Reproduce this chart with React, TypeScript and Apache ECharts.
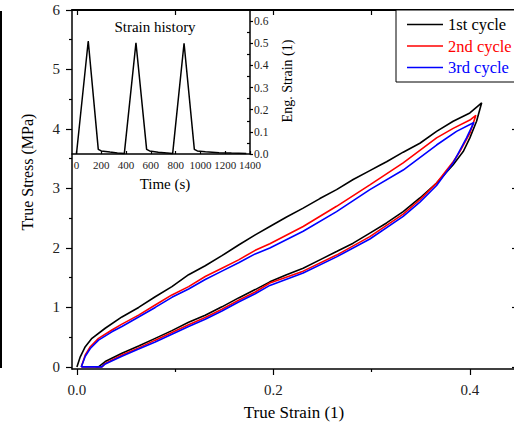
import React, { useEffect, useRef } from 'react';
import * as echarts from 'echarts';

// ---- data ----
const cycle1Strain = [0, 0.0034, 0.0085, 0.0153, 0.0288, 0.0458, 0.0628, 0.0797, 0.0967, 0.1137, 0.1306, 0.1476, 0.1646, 0.1815, 0.1964, 0.2134, 0.2303, 0.2473, 0.2643, 0.2812, 0.2982, 0.3084, 0.3152, 0.3321, 0.3491, 0.3661, 0.383, 0.40, 0.412,
  0.4068, 0.40, 0.3932, 0.383, 0.3661, 0.3491, 0.3321, 0.3152, 0.2982, 0.2812, 0.2643, 0.2473, 0.2303, 0.2134, 0.1964, 0.1815, 0.1646, 0.1476, 0.1306, 0.1137, 0.0967, 0.0797, 0.0628, 0.0458, 0.0288, 0.022, 0.019];
const cycle1Stress = [0, 0.17, 0.34, 0.48, 0.65, 0.84, 1.00, 1.18, 1.35, 1.55, 1.70, 1.87, 2.05, 2.22, 2.36, 2.52, 2.67, 2.83, 2.98, 3.15, 3.30, 3.39, 3.45, 3.61, 3.76, 3.96, 4.13, 4.27, 4.44,
  4.13, 3.85, 3.62, 3.40, 3.09, 2.84, 2.61, 2.42, 2.25, 2.08, 1.94, 1.80, 1.66, 1.55, 1.43, 1.30, 1.16, 1.01, 0.87, 0.75, 0.61, 0.48, 0.35, 0.23, 0.09, 0, 0];

const cycle2Strain = [0.0044, 0.0085, 0.0136, 0.022, 0.0356, 0.0458, 0.0628, 0.0797, 0.0967, 0.1137, 0.1306, 0.1476, 0.1646, 0.1815, 0.1964, 0.2303, 0.2643, 0.2982, 0.3321, 0.3661, 0.383, 0.40, 0.4061,
  0.40, 0.3898, 0.383, 0.3661, 0.3491, 0.3321, 0.2982, 0.2643, 0.2303, 0.1964, 0.1815, 0.1646, 0.1476, 0.1306, 0.1137, 0.0967, 0.0797, 0.0628, 0.0458, 0.0288, 0.0254, 0.0044];
const cycle2Stress = [0, 0.20, 0.34, 0.48, 0.62, 0.72, 0.87, 1.04, 1.21, 1.35, 1.52, 1.66, 1.80, 1.96, 2.07, 2.36, 2.70, 3.06, 3.43, 3.85, 4.01, 4.15, 4.23,
  3.93, 3.62, 3.45, 3.09, 2.81, 2.57, 2.19, 1.88, 1.61, 1.41, 1.26, 1.12, 0.97, 0.83, 0.71, 0.58, 0.45, 0.32, 0.20, 0.06, 0, 0];

const cycle3Strain = [0.0044, 0.0085, 0.0136, 0.022, 0.0356, 0.0458, 0.0628, 0.0797, 0.0967, 0.1137, 0.1306, 0.1476, 0.1646, 0.1815, 0.1964, 0.2303, 0.2643, 0.2982, 0.3321, 0.3661, 0.3864, 0.4041,
  0.3966, 0.383, 0.3661, 0.3491, 0.3321, 0.2982, 0.2643, 0.2303, 0.1964, 0.1815, 0.1646, 0.1476, 0.1306, 0.1137, 0.0967, 0.0797, 0.0628, 0.0458, 0.0288, 0.0254, 0.0044];
const cycle3Stress = [0, 0.18, 0.31, 0.45, 0.59, 0.68, 0.84, 1.00, 1.17, 1.31, 1.47, 1.61, 1.75, 1.90, 2.00, 2.28, 2.61, 2.98, 3.31, 3.73, 3.96, 4.11,
  3.85, 3.43, 3.05, 2.77, 2.53, 2.15, 1.85, 1.58, 1.37, 1.23, 1.09, 0.94, 0.80, 0.68, 0.55, 0.42, 0.30, 0.18, 0.05, 0, 0];

const historyTime = [0, 95, 176, 200, 270, 330, 386, 480, 566, 590, 660, 730, 776, 868, 951, 975, 1040, 1150, 1250, 1370];
const historyStrain = [0, 0.51, 0.021, 0.014, 0.009, 0.005, 0.002, 0.502, 0.021, 0.014, 0.008, 0.005, 0.002, 0.5, 0.021, 0.014, 0.01, 0.006, 0.004, 0.002];

const legendNames = ['1st cycle', '2nd cycle', '3rd cycle'];
const seriesColors = ['#000000', '#ff0000', '#0000ff'];

const mainXTicks = [0, 0.2, 0.4];
const mainXMinor = [0.1, 0.3];
const mainXTop = [0, 0.1, 0.2, 0.3, 0.4];
const mainYTicks = [0, 1, 2, 3, 4, 5, 6];
const mainYMinor = [0.5, 1.5, 2.5, 3.5, 4.5, 5.5];
const insetXTicks = [0, 200, 400, 600, 800, 1000, 1200, 1400];
const insetYTicks = [0, 0.1, 0.2, 0.3, 0.4, 0.5, 0.6];
const insetYMinor = [0.05, 0.15, 0.25, 0.35, 0.45, 0.55];

const FONT = '"Liberation Serif", "Times New Roman", serif';
const LINE = { color: '#000', width: 1.5 };

const pairs = (xs: number[], ys: number[]) => xs.map((x, i) => [x, ys[i]]);

function axis(o: any) {
  const base: any = {
    type: 'value',
    splitLine: { show: false },
    axisLine: { show: false, onZero: false, lineStyle: LINE },
    axisTick: { show: true, lineStyle: { color: '#000', width: 1.2 } },
    axisLabel: { show: false, fontFamily: FONT, color: '#222', hideOverlap: false, showMinLabel: true, showMaxLabel: true },
  };
  return {
    ...base,
    ...o,
    axisLine: { ...base.axisLine, ...(o.axisLine || {}) },
    axisTick: { ...base.axisTick, ...(o.axisTick || {}) },
    axisLabel: { ...base.axisLabel, ...(o.axisLabel || {}) },
  };
}

export default function App() {
  const ref = useRef<HTMLDivElement>(null);
  useEffect(() => {
    if (!ref.current) return;
    const chart = echarts.init(ref.current, null, { renderer: 'svg' });
    const mainX = { gridIndex: 0, min: -0.005, max: 0.45 };
    const mainY = { gridIndex: 0, min: -0.035, max: 6 };
    const insetX = { gridIndex: 1, min: -36, max: 1400 };
    const insetY = { gridIndex: 1, min: 0, max: 0.65 };
    const option: any = {
      animation: false,
      backgroundColor: '#fff',
      grid: [
        { left: 72, top: 10, width: 447, height: 359 },
        { left: 72, top: 10, width: 178, height: 144 },
      ],
      xAxis: [
        axis({ ...mainX, position: 'bottom', axisLine: { show: true },
          axisTick: { length: 6, customValues: mainXTicks },
          axisLabel: { show: true, customValues: mainXTicks, formatter: (v: number) => v.toFixed(1), margin: 13, fontSize: 15 } }),
        axis({ ...mainX, position: 'bottom', axisTick: { length: 3, customValues: mainXMinor } }),
        axis({ ...mainX, position: 'top', axisLine: { show: true, lineStyle: { color: '#000', width: 2 } },
          axisTick: { inside: true, length: 5, customValues: mainXTop } }),
        axis({ ...insetX, position: 'bottom', axisLine: { show: true },
          axisTick: { inside: true, length: 3, customValues: insetXTicks },
          axisLabel: { show: true, customValues: insetXTicks, formatter: (v: number) => String(Math.round(v)), margin: 5, fontSize: 11, lineHeight: 11 } }),
      ],
      yAxis: [
        axis({ ...mainY, position: 'left', axisLine: { show: true },
          axisTick: { length: 6, customValues: mainYTicks },
          axisLabel: { show: true, customValues: mainYTicks, formatter: (v: number) => String(Math.round(v)), margin: 12, fontSize: 15 } }),
        axis({ ...mainY, position: 'left', axisTick: { length: 3, customValues: mainYMinor } }),
        axis({ ...mainY, position: 'right', axisLine: { show: true },
          axisTick: { inside: true, length: 7, customValues: mainYTicks } }),
        axis({ ...insetY, position: 'right', axisLine: { show: true },
          axisTick: { length: 3, customValues: insetYTicks },
          axisLabel: { show: true, customValues: insetYTicks, formatter: (v: number) => v.toFixed(1), margin: 4, fontSize: 11.5, lineHeight: 10 } }),
        axis({ ...insetY, position: 'right', axisTick: { inside: true, length: 3, customValues: insetYMinor } }),
      ],
      legend: {
        data: legendNames.map((n, i) => ({ name: n, icon: 'rect', textStyle: { color: seriesColors[i] } })),
        orient: 'vertical',
        left: 396,
        top: 10,
        padding: [6, 30, 6, 11],
        itemWidth: 36,
        itemHeight: 1.6,
        itemGap: 4.5,
        selectedMode: false,
        borderColor: '#000',
        borderWidth: 1,
        borderRadius: 0,
        backgroundColor: '#fff',
        textStyle: { fontFamily: FONT, fontSize: 16.5 },
      },
      series: [
        ...[pairs(cycle1Strain, cycle1Stress), pairs(cycle2Strain, cycle2Stress), pairs(cycle3Strain, cycle3Stress)].map((d, i) => ({
          type: 'line',
          name: legendNames[i],
          xAxisIndex: 0,
          yAxisIndex: 0,
          data: d,
          symbol: 'none',
          lineStyle: { color: seriesColors[i], width: 1.6 },
          itemStyle: { color: seriesColors[i] },
        })),
        {
          type: 'line',
          name: 'Strain history',
          xAxisIndex: 3,
          yAxisIndex: 3,
          data: pairs(historyTime, historyStrain),
          symbol: 'none',
          lineStyle: { color: '#000', width: 1.5 },
        },
      ],
      graphic: [
        { type: 'line', shape: { x1: 1, y1: 11, x2: 1, y2: 368 }, style: { stroke: '#000', lineWidth: 2 } },
        { type: 'text', x: 27, y: 172, rotation: Math.PI / 2,
          style: { text: 'True Stress (MPa)', fontFamily: FONT, fontSize: 16, fill: '#000', align: 'center', verticalAlign: 'middle' } },
        { type: 'text', x: 294, y: 412,
          style: { text: 'True Strain (1)', fontFamily: FONT, fontSize: 17, fill: '#000', align: 'center', verticalAlign: 'middle' } },
        { type: 'text', x: 155, y: 27,
          style: { text: 'Strain history', fontFamily: FONT, fontSize: 15, fill: '#000', align: 'center', verticalAlign: 'middle' } },
        { type: 'text', x: 165, y: 184,
          style: { text: 'Time (s)', fontFamily: FONT, fontSize: 15, fill: '#000', align: 'center', verticalAlign: 'middle' } },
        { type: 'text', x: 287, y: 81, rotation: Math.PI / 2,
          style: { text: 'Eng. Strain (1)', fontFamily: FONT, fontSize: 14, fill: '#000', align: 'center', verticalAlign: 'middle' } },
      ],
    };
    chart.setOption(option);
    return () => chart.dispose();
  }, []);
  return <div ref={ref} style={{ position: 'fixed', left: 0, top: 0, width: 524, height: 429 }} />;
}
